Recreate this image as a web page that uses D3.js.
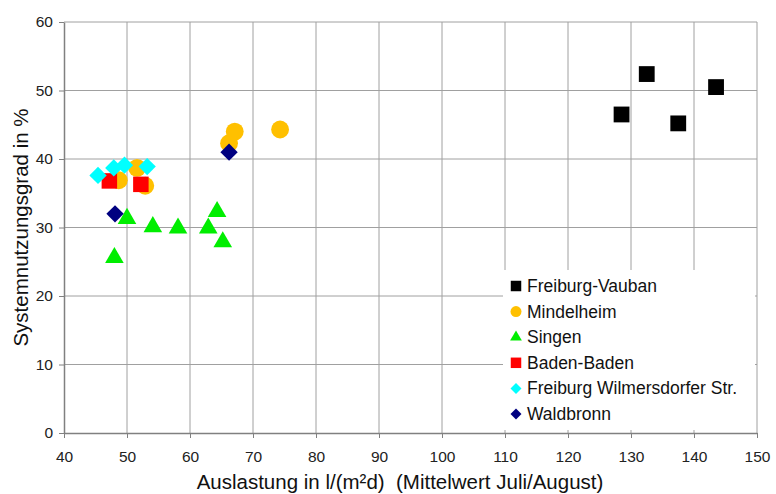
<!DOCTYPE html>
<html>
<head>
<meta charset="utf-8">
<script src="https://cdn.jsdelivr.net/npm/d3@7/dist/d3.min.js"></script>
<style>
  html, body { margin: 0; padding: 0; background: #fff; }
  svg { display: block; font-family: Arial, "Liberation Sans", sans-serif; }
</style>
</head>
<body>
<svg id="chart" width="776" height="494"></svg>
<script>
// Series: load (l/(m²d), Jul/Aug mean) vs. system efficiency (%)
const vaubanX = [128.5, 132.5, 137.5, 143.5];
const vaubanY = [46.5, 52.4, 45.2, 50.5];

const mindelheimX = [67.1, 74.3, 66.2, 51.6, 48.7, 52.9];
const mindelheimY = [44.0, 44.3, 42.3, 38.7, 36.9, 36.1];

const singenX = [48.0, 50.0, 54.1, 58.1, 62.9, 64.3, 65.2];
const singenY = [25.6, 31.3, 30.1, 29.9, 29.9, 32.3, 27.9];

const badenX = [47.2, 52.2];
const badenY = [36.8, 36.3];

const wilmersX = [45.4, 47.9, 49.6, 53.2];
const wilmersY = [37.6, 38.7, 39.1, 38.9];

const waldbronnX = [48.1, 66.2];
const waldbronnY = [32.0, 41.0];

const xTicks = [40, 50, 60, 70, 80, 90, 100, 110, 120, 130, 140, 150];
const yTicks = [0, 10, 20, 30, 40, 50, 60];

// Diamond drawn as a square turned by 45°
const symbolRhombus = {
  draw(context, size) {
    const r = Math.sqrt(size / 2);
    context.moveTo(0, -r);
    context.lineTo(r, 0);
    context.lineTo(0, r);
    context.lineTo(-r, 0);
    context.closePath();
  }
};

const series = [
  { name: "Freiburg-Vauban", xs: vaubanX, ys: vaubanY, symbol: d3.symbolSquare, color: "#000000", size: 250, legendSize: 110 },
  { name: "Mindelheim", xs: mindelheimX, ys: mindelheimY, symbol: d3.symbolCircle, color: "#ffc000", size: 250, legendSize: 95 },
  { name: "Singen", xs: singenX, ys: singenY, symbol: d3.symbolTriangle, color: "#00ee00", size: 150, legendSize: 60 },
  { name: "Baden-Baden", xs: badenX, ys: badenY, symbol: d3.symbolSquare, color: "#ff0000", size: 240, legendSize: 110 },
  { name: "Freiburg Wilmersdorfer Str.", xs: wilmersX, ys: wilmersY, symbol: symbolRhombus, color: "#00ffff", size: 150, legendSize: 60 },
  { name: "Waldbronn", xs: waldbronnX, ys: waldbronnY, symbol: symbolRhombus, color: "#000080", size: 150, legendSize: 60 }
];

const svg = d3.select("#chart");
const margin = { left: 64, right: 19, top: 22, bottom: 61 };
const W = 776, H = 494;

const x = d3.scaleLinear().domain([40, 150]).range([margin.left, W - margin.right]);
const y = d3.scaleLinear().domain([0, 60]).range([H - margin.bottom, margin.top]);

// Grid
const grid = svg.append("g");
grid.selectAll("line.v").data(xTicks.slice(1)).join("line")
  .attr("x1", d => x(d)).attr("x2", d => x(d))
  .attr("y1", y(0)).attr("y2", y(60))
  .attr("stroke", "#a0a0a0").attr("stroke-width", 1);
grid.selectAll("line.h").data(yTicks.slice(1)).join("line")
  .attr("x1", x(40)).attr("x2", x(150))
  .attr("y1", d => y(d)).attr("y2", d => y(d))
  .attr("stroke", "#a0a0a0").attr("stroke-width", 1);

// Axes
const xAxis = svg.append("g")
  .attr("transform", `translate(0,${y(0)})`)
  .call(d3.axisBottom(x).tickValues(xTicks).tickSize(5).tickSizeOuter(0).tickPadding(13));
const yAxis = svg.append("g")
  .attr("transform", `translate(${x(40)},0)`)
  .call(d3.axisLeft(y).tickValues(yTicks).tickSize(5).tickSizeOuter(0).tickPadding(6));

[xAxis, yAxis].forEach(a => {
  a.select(".domain").attr("stroke", "#808080").attr("stroke-width", 1.5);
  a.selectAll(".tick line").attr("stroke", "#808080");
  a.selectAll(".tick text").attr("font-size", 15.5).attr("fill", "#222")
    .attr("font-family", "Arial, 'Liberation Sans', sans-serif");
});

// Axis titles
svg.append("text")
  .attr("x", 400).attr("y", 489)
  .attr("text-anchor", "middle")
  .attr("font-size", 20.5).attr("fill", "#111")
  .style("white-space", "pre")
  .text("Auslastung in l/(m²d)  (Mittelwert Juli/August)");
svg.append("text")
  .attr("transform", `translate(28,${(y(0) + y(60)) / 2}) rotate(-90)`)
  .attr("text-anchor", "middle")
  .attr("font-size", 20.5).attr("fill", "#111")
  .text("Systemnutzungsgrad in %");

// Markers
const marks = svg.append("g");
series.forEach(s => {
  const pts = s.xs.map((v, i) => [v, s.ys[i]]);
  marks.append("g").selectAll("path").data(pts).join("path")
    .attr("d", d3.symbol().type(s.symbol).size(s.size))
    .attr("transform", d => `translate(${x(d[0])},${y(d[1])})`)
    .attr("fill", s.color);
});

// Legend
const lg = svg.append("g").attr("transform", "translate(503,270)");
lg.append("rect").attr("x", 0).attr("y", 0).attr("width", 252).attr("height", 160)
  .attr("fill", "#fff");
series.forEach((s, i) => {
  const row = lg.append("g").attr("transform", `translate(13,${16 + i * 25.6})`);
  row.append("path")
    .attr("d", d3.symbol().type(s.symbol).size(s.legendSize))
    .attr("fill", s.color);
  row.append("text")
    .attr("x", 11).attr("y", 6)
    .attr("font-size", 17.5).attr("fill", "#111")
    .text(s.name);
});
</script>
</body>
</html>
